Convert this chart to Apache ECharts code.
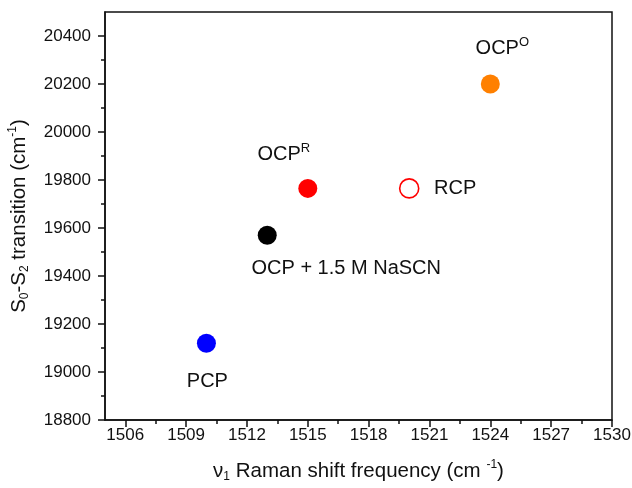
<!DOCTYPE html>
<html lang="en">
<head>
    <meta charset="UTF-8">
    <title>scatter</title>
    <script src="https://cdn.jsdelivr.net/npm/echarts@6/dist/echarts.min.js"></script>
    <style>
        * {
            margin: 0;
            padding: 0;
        }
        body {
            background-color: #fff;
            overflow: hidden;
        }
        #main {
            width: 632px;
            height: 488px;
        }
    </style>
</head>
<body>
<div id="main"></div>
<script type="text/javascript">
    // data
    var names = ['PCP', 'OCP + 1.5 M NaSCN', 'OCP{sup|R}', 'RCP', 'OCP{sup|O}'];
    var ramanShift = [1510, 1513, 1515, 1520, 1524];
    var transition = [19120, 19570, 19765, 19765, 20200];
    var xTicks = [1506, 1509, 1512, 1515, 1518, 1521, 1524, 1527, 1530];
    var xMinor = [1507.5, 1510.5, 1513.5, 1516.5, 1519.5, 1522.5, 1525.5, 1528.5];
    var yTicks = [18800, 19000, 19200, 19400, 19600, 19800, 20000, 20200, 20400];
    var yMinor = [18900, 19100, 19300, 19500, 19700, 19900, 20100, 20300];

    var font = 'Liberation Sans, Arial, sans-serif';
    var ink = '#111111';

    // marker look and label placement, by point
    var looks = [
        {color: '#0000ff', offset: [1, 38]},
        {color: '#000000', offset: [79, 33]},
        {color: '#ff0000', offset: [-24, -34]},
        {color: '#ffffff', border: '#ff0000', offset: [46, 0]},
        {color: '#ff8000', offset: [12, -36]}
    ];

    var richTxt = {
        t: {fontSize: 20.5, fontFamily: font, color: ink, lineHeight: 24},
        sub: {fontSize: 12, fontFamily: font, color: ink, lineHeight: 12, verticalAlign: 'bottom'},
        sup: {fontSize: 12, fontFamily: font, color: ink, lineHeight: 12, verticalAlign: 'top'}
    };

    var points = [];
    for (var i = 0; i < names.length; i++) {
        var lk = looks[i];
        points.push({
            value: [ramanShift[i], transition[i]],
            itemStyle: {
                color: lk.color,
                opacity: 1,
                borderColor: lk.border || lk.color,
                borderWidth: lk.border ? 1.6 : 0
            },
            label: {
                show: true,
                position: 'inside',
                offset: lk.offset,
                formatter: names[i].indexOf('{') < 0 ? '{t|' + names[i] + '}' : '{t|OCP}' + names[i].slice(3),
                rich: {
                    t: {fontSize: 20, fontFamily: font, color: ink, lineHeight: 24},
                    sup: {fontSize: 13, fontFamily: font, color: ink, lineHeight: 13, verticalAlign: 'top'}
                }
            }
        });
    }

    function tickAxis(values, len) {
        return {
            show: true,
            inside: false,
            length: len,
            customValues: values,
            lineStyle: {color: ink, width: 1.5}
        };
    }

    function plain(v) {
        return String(v);
    }

    var myChart = echarts.init(document.getElementById('main'));
    var option = {
        animation: false,
        grid: {
            left: 105,
            right: 20,
            top: 12,
            bottom: 68,
            show: true,
            borderColor: ink,
            borderWidth: 1.5,
            containLabel: false,
            outerBoundsMode: 'none'
        },
        xAxis: [
            {
                type: 'value',
                min: 1505,
                max: 1530,
                position: 'bottom',
                splitLine: {show: false},
                axisLine: {show: true, onZero: false, lineStyle: {color: ink, width: 1.5}},
                axisTick: tickAxis(xTicks, 7),
                axisLabel: {
                    customValues: xTicks,
                    formatter: plain,
                    margin: 7,
                    color: ink,
                    fontSize: 17,
                    fontFamily: font
                },
                name: '{t|\u03bd}{sub|1}{t| Raman shift frequency (cm }{sup|-1}{t|)}',
                nameLocation: 'middle',
                nameGap: 39,
                nameTextStyle: {rich: richTxt}
            },
            {
                type: 'value',
                min: 1505,
                max: 1530,
                position: 'bottom',
                splitLine: {show: false},
                axisLine: {show: false, onZero: false},
                axisTick: tickAxis(xMinor, 4),
                axisLabel: {show: false}
            }
        ],
        yAxis: [
            {
                type: 'value',
                min: 18800,
                max: 20500,
                position: 'left',
                splitLine: {show: false},
                axisLine: {show: true, onZero: false, lineStyle: {color: ink, width: 1.5}},
                axisTick: tickAxis(yTicks, 7),
                axisLabel: {
                    customValues: yTicks,
                    formatter: plain,
                    margin: 14,
                    color: ink,
                    fontSize: 17,
                    fontFamily: font
                },
                name: '{t|S}{sub|0}{t|-S}{sub|2}{t| transition (cm}{sup|-1}{t|)}',
                nameLocation: 'middle',
                nameGap: 74,
                nameTextStyle: {rich: richTxt}
            },
            {
                type: 'value',
                min: 18800,
                max: 20500,
                position: 'left',
                splitLine: {show: false},
                axisLine: {show: false, onZero: false},
                axisTick: tickAxis(yMinor, 4),
                axisLabel: {show: false}
            }
        ],
        series: [
            {
                type: 'scatter',
                symbol: 'circle',
                symbolSize: 19,
                data: points
            }
        ]
    };
    myChart.setOption(option);
</script>
</body>
</html>
